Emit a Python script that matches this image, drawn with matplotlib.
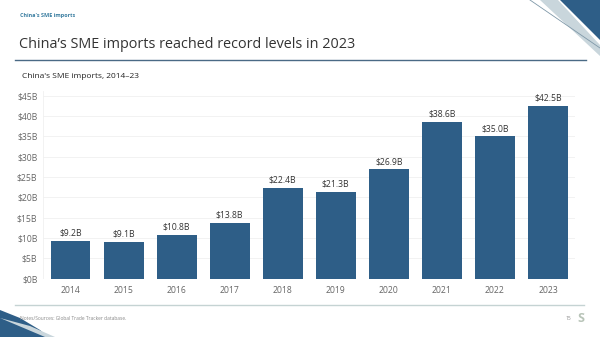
import matplotlib
matplotlib.use("Agg")
import matplotlib.pyplot as plt
from matplotlib.patches import Polygon

# Data
years = ["2014", "2015", "2016", "2017", "2018", "2019", "2020", "2021", "2022", "2023"]
imports_bn = [9.2, 9.1, 10.8, 13.8, 22.4, 21.3, 26.9, 38.6, 35.0, 42.5]
y_ticks = [0, 5, 10, 15, 20, 25, 30, 35, 40, 45]

BAR_COLOR = "#2e5e87"
W, H = 600, 337

plt.rcParams["font.family"] = ["Open Sans", "DejaVu Sans"]

fig = plt.figure(figsize=(W / 100, H / 100), dpi=100)
fig.patch.set_facecolor("white")


def fx(px):
    return px / W


def fy(py):
    return 1 - py / H


# Header text
fig.text(fx(20), fy(15), "China's SME imports", fontsize=4.0, fontweight="bold",
         color="#3b7ea1", va="center")
fig.text(fx(19), fy(45), "China’s SME imports reached record levels in 2023", fontsize=10.4,
         color="#333333", va="center")
fig.add_artist(plt.Line2D([fx(15), fx(586)], [fy(60), fy(60)], color="#4a6a85", lw=1.0))
fig.text(fx(22), fy(77), "China's SME imports, 2014–23", fontsize=6.0, color="#222222", va="center")

# Decorative corner shapes
fig.add_artist(Polygon([(fx(540), fy(0)), (fx(558), fy(0)), (fx(600), fy(45)), (fx(600), fy(56))],
                       closed=True, transform=fig.transFigure, color="#c9d6dc", lw=0))
fig.add_artist(Polygon([(fx(560), fy(0)), (fx(600), fy(0)), (fx(600), fy(40))],
                       closed=True, transform=fig.transFigure, color="#2e5e87", lw=0))
fig.add_artist(plt.Line2D([fx(530), fx(600)], [fy(0), fy(48)], color="#7f98a8", lw=0.6))
fig.add_artist(Polygon([(fx(0), fy(310)), (fx(20), fy(318)), (fx(40), fy(330)), (fx(48), fy(337)), (fx(0), fy(337))],
                       closed=True, transform=fig.transFigure, color="#2e5e87", lw=0))
fig.add_artist(Polygon([(fx(0), fy(318)), (fx(30), fy(326)), (fx(55), fy(337)), (fx(45), fy(337))],
                       closed=True, transform=fig.transFigure, color="#c9d6dc", lw=0))

# Footer
fig.add_artist(plt.Line2D([fx(15), fx(584)], [fy(305), fy(305)], color="#c5d3d3", lw=1.0))
fig.text(fx(20), fy(318), "Notes/Sources: Global Trade Tracker database.", fontsize=3.5,
         color="#888888", va="center")
fig.text(fx(566), fy(318), "15", fontsize=3.5, color="#888888", va="center")
fig.text(fx(577), fy(318), "S", fontsize=9, color="#b8c4b8", va="center", fontweight="bold")

# Chart
ax = fig.add_axes([fx(43), fy(278.6), fx(575) - fx(43), (278.6 - 91) / H])
x = range(len(years))
ax.bar(x, imports_bn, width=0.75, color=BAR_COLOR, zorder=3)
for xi, v in zip(x, imports_bn):
    ax.text(xi, v + 0.8, f"${v:.1f}B", ha="center", va="bottom", fontsize=6.2, color="#333333")

ax.set_xlim(-0.52, 9.51)
ax.set_ylim(0, 46.2)
ax.set_yticks(y_ticks)
ax.set_yticklabels([f"${t}B" for t in y_ticks])
ax.set_xticks(list(x))
ax.set_xticklabels(years)
ax.tick_params(axis="both", length=0, labelsize=6.2, labelcolor="#666666")
ax.tick_params(axis="x", pad=5)
ax.tick_params(axis="y", pad=4)
ax.grid(axis="y", color="#f0f0f0", lw=0.6, zorder=0)
for s in ax.spines.values():
    s.set_visible(False)
ax.axvline(-0.52, color="#f0f0f0", lw=0.6, zorder=0)

fig.savefig("out.png", dpi=100)
